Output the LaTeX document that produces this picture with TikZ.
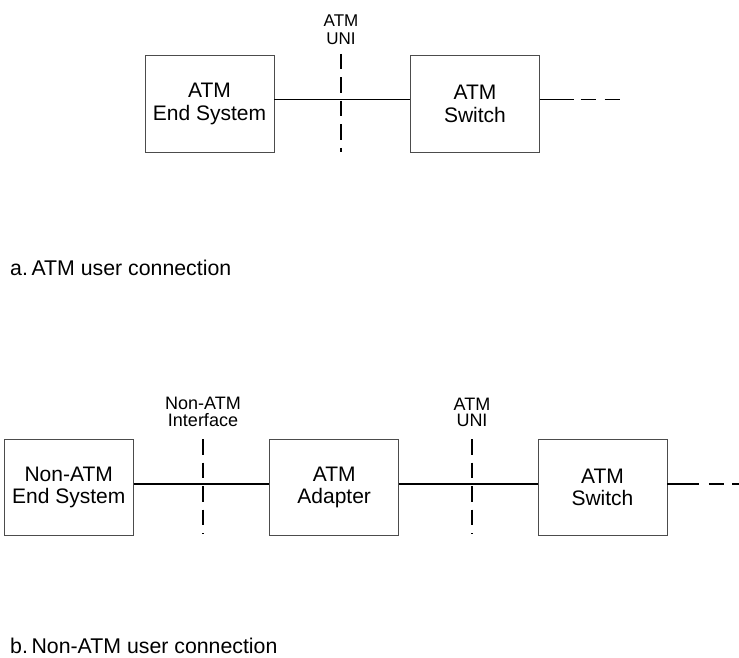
\documentclass[tikz,border=0pt]{standalone}
\usepackage{fontspec}
\setmainfont{Liberation Sans}
\begin{document}
\begin{tikzpicture}[x=1pt,y=-1pt,
  box/.style={draw=black!70, line width=0.9pt, minimum width=129pt, minimum height=96.5pt,
    inner sep=0pt, align=center, font=\fontsize{21}{22.5}\selectfont},
  link/.style={line width=1.5pt},
  iface/.style={line width=1.5pt, dash pattern=on 15.5pt off 8pt},
  ifacetext/.style={anchor=south, inner sep=0pt, align=center},
  caption/.style={anchor=base west, inner sep=0pt, font=\fontsize{21.3}{24}\selectfont}]
\useasboundingbox (0,0) rectangle (739,658);

% ---- a. ATM user connection ----
\node[box] (es) at (209.5,103.75) {ATM\\End System};
\node[box] (sw) at (475,103.75) {ATM\\Switch};
\draw[link] ([yshift=4.25pt]es.east) -- ([yshift=4.25pt]sw.west);

\coordinate (unit) at (341,54);
\coordinate (unib) at (341,152);
\draw[iface] (unit) -- (unib);
\node[ifacetext, font=\fontsize{17}{18.3}\selectfont] (unilbl) at (341,45) {ATM\\UNI};

\coordinate (swend) at (620,99.5);
\draw[link, dash pattern=on 34pt off 6.7pt on 15.7pt off 8.3pt on 16pt off 20pt]
  ([yshift=4.25pt]sw.east) -- (swend);

\node[caption] (capa) at (10,275) {a.\kern0.17em ATM user connection};

% ---- b. Non-ATM user connection ----
\node[box] (ne) at (68.7,487.5) {Non-ATM\\End System};
\node[box] (ad) at (334.2,487.5) {ATM\\Adapter};
\node[box] (swb) at (602.5,487.5) {ATM\\Switch};
\draw[link] ([yshift=3.5pt]ne.east) -- ([yshift=3.5pt]ad.west);
\draw[link] ([yshift=3.5pt]ad.east) -- ([yshift=3.5pt]swb.west);

\coordinate (nait) at (203,439);
\coordinate (naib) at (203,534);
\draw[iface] (nait) -- (naib);
\node[ifacetext, font=\fontsize{18}{16.5}\selectfont] (nailbl) at (203,426.7) {Non-ATM\\Interface};

\coordinate (unibt) at (472,439);
\coordinate (unibb) at (472,534);
\draw[iface] (unibt) -- (unibb);
\node[ifacetext, font=\fontsize{18}{16.5}\selectfont] (unilblb) at (472,427.3) {ATM\\UNI};

\coordinate (swbend) at (739,484);
\draw[link, dash pattern=on 32pt off 9.3pt on 15pt off 8.3pt on 7.3pt off 20pt]
  ([yshift=3.5pt]swb.east) -- (swbend);

\node[caption] (capb) at (10,653.5) {b.\kern0.17em Non-ATM user connection};
\end{tikzpicture}
\end{document}
